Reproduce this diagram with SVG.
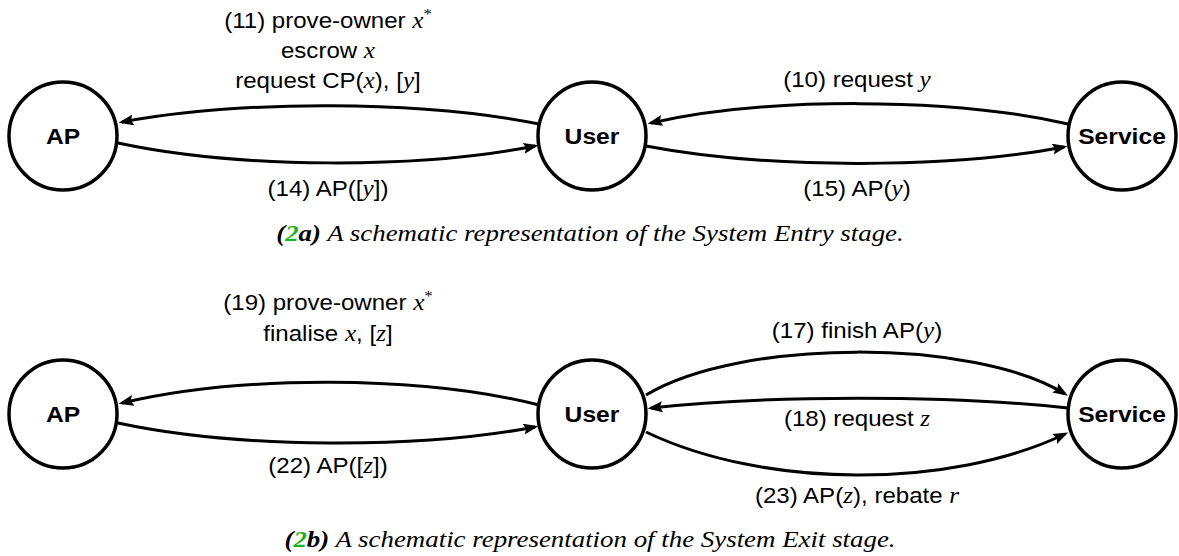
<svg xmlns="http://www.w3.org/2000/svg" width="1179" height="556" viewBox="0 0 1179 556">
<style>
.node{fill:#fff;stroke:#000;stroke-width:3.5}
.nl{font-family:"Liberation Sans",Arial,sans-serif;font-weight:bold;font-size:22px;text-anchor:middle;dominant-baseline:central}
.edge{fill:none;stroke:#000;stroke-width:3}
.lbl{font-family:"Liberation Sans",Arial,sans-serif;font-size:21.5px;text-anchor:middle;fill:#000}
.m{font-family:"Liberation Serif","Times New Roman",serif;font-style:italic;font-size:22.5px}
.sup{font-family:"Liberation Serif","Times New Roman",serif;font-size:15px}
.cap{font-family:"Liberation Serif","Times New Roman",serif;font-style:italic;font-size:24px;text-anchor:middle}
.b{font-weight:bold}
.g{fill:#1db31d}
</style>
<defs>
<marker id="arr" markerUnits="userSpaceOnUse" markerWidth="17" markerHeight="12" refX="11.5" refY="5.5" orient="auto" viewBox="0 0 17 12">
<path d="M0,0 L15,5.5 L0,11 L2.5,5.5 z" fill="#000"/>
</marker>
</defs>
<g id="connectors">
<path class="edge" marker-end="url(#arr)" d="M539,124 C420,100 240,100 122,122"/>
<path class="edge" marker-end="url(#arr)" d="M118,143 C240,169 420,169 535,146"/>
<path class="edge" marker-end="url(#arr)" d="M1068,124 C950,97 765,97 651,123"/>
<path class="edge" marker-end="url(#arr)" d="M646,146 C765,169 950,169 1064,147"/>
<path class="edge" marker-end="url(#arr)" d="M539,405 C420,375 240,375 122,403"/>
<path class="edge" marker-end="url(#arr)" d="M118,423 C240,449 420,449 535,427"/>
<path class="edge" marker-end="url(#arr)" d="M646,395 C740,338 975,338 1065,394"/>
<path class="edge" marker-end="url(#arr)" d="M1068,408 C950,395 765,395 651,408"/>
<path class="edge" marker-end="url(#arr)" d="M646,432 C765,489 950,489 1065,434"/>
</g>
<g id="labels">
<text class="lbl" transform="translate(328,28) scale(1.12,1)">(11) prove-owner <tspan class="m">x</tspan><tspan class="sup" dy="-9">*</tspan></text>
<text class="lbl" transform="translate(328,58) scale(1.12,1)">escrow <tspan class="m">x</tspan></text>
<text class="lbl" transform="translate(328,88) scale(1.12,1)">request CP(<tspan class="m">x</tspan>), [<tspan class="m">y</tspan>]</text>
<text class="lbl" transform="translate(328,196) scale(1.12,1)">(14) AP([<tspan class="m">y</tspan>])</text>
<text class="lbl" transform="translate(857,87) scale(1.12,1)">(10) request <tspan class="m">y</tspan></text>
<text class="lbl" transform="translate(857,196) scale(1.12,1)">(15) AP(<tspan class="m">y</tspan>)</text>
<text class="lbl" transform="translate(328,310) scale(1.12,1)">(19) prove-owner <tspan class="m">x</tspan><tspan class="sup" dy="-9">*</tspan></text>
<text class="lbl" transform="translate(328,341) scale(1.12,1)">finalise <tspan class="m">x</tspan>, [<tspan class="m">z</tspan>]</text>
<text class="lbl" transform="translate(328,473) scale(1.12,1)">(22) AP([<tspan class="m">z</tspan>])</text>
<text class="lbl" transform="translate(857,338) scale(1.12,1)">(17) finish AP(<tspan class="m">y</tspan>)</text>
<text class="lbl" transform="translate(857,426) scale(1.12,1)">(18) request <tspan class="m">z</tspan></text>
<text class="lbl" transform="translate(857,503) scale(1.12,1)">(23) AP(<tspan class="m">z</tspan>), rebate <tspan class="m">r</tspan></text>
</g>
<g id="node-ap-a"><circle class="node" cx="63" cy="136" r="54"/><text class="nl" transform="translate(63,136) scale(1.12,1)">AP</text></g>
<g id="node-user-a"><circle class="node" cx="592" cy="136" r="54"/><text class="nl" transform="translate(592,136) scale(1.12,1)">User</text></g>
<g id="node-service-a"><circle class="node" cx="1122" cy="136" r="54"/><text class="nl" transform="translate(1122,136) scale(1.12,1)">Service</text></g>
<g id="node-ap-b"><circle class="node" cx="63" cy="414" r="54"/><text class="nl" transform="translate(63,414) scale(1.12,1)">AP</text></g>
<g id="node-user-b"><circle class="node" cx="592" cy="414" r="54"/><text class="nl" transform="translate(592,414) scale(1.12,1)">User</text></g>
<g id="node-service-b"><circle class="node" cx="1122" cy="414" r="54"/><text class="nl" transform="translate(1122,414) scale(1.12,1)">Service</text></g>
<g id="captions">
<text class="cap" transform="translate(590,241) scale(1.12,1)"><tspan class="b">(</tspan><tspan class="b g">2</tspan><tspan class="b">a)</tspan> A schematic representation of the System Entry stage.</text>
<text class="cap" transform="translate(590,547) scale(1.12,1)"><tspan class="b">(</tspan><tspan class="b g">2</tspan><tspan class="b">b)</tspan> A schematic representation of the System Exit stage.</text>
</g>
</svg>
